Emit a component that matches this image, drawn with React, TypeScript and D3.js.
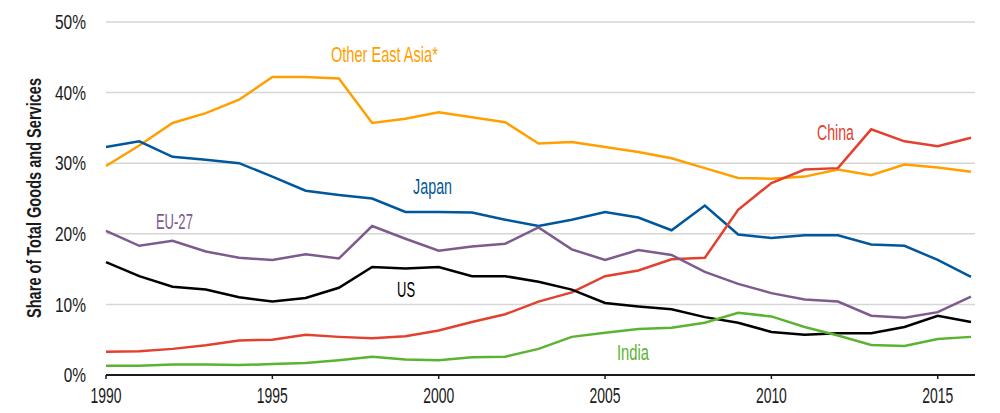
import React from "react";
import * as d3 from "d3";

const years = d3.range(1990, 2017);

const otherEastAsia = [29.6, 32.5, 35.7, 37.1, 39.0, 42.2, 42.2, 42.0, 35.7, 36.3, 37.2, 36.5, 35.8, 32.8, 33.0, 32.3, 31.6, 30.7, 29.3, 27.9, 27.8, 28.1, 29.1, 28.3, 29.8, 29.4, 28.8];
const japan = [32.3, 33.1, 30.9, 30.5, 30.0, 28.1, 26.1, 25.5, 25.0, 23.1, 23.1, 23.0, 22.0, 21.1, 22.0, 23.1, 22.3, 20.5, 24.0, 19.9, 19.4, 19.8, 19.8, 18.5, 18.3, 16.3, 13.9];
const china = [3.3, 3.35, 3.7, 4.2, 4.9, 5.0, 5.7, 5.4, 5.2, 5.5, 6.3, 7.5, 8.6, 10.4, 11.7, 14.0, 14.8, 16.4, 16.6, 23.4, 27.2, 29.1, 29.3, 34.8, 33.1, 32.4, 33.6];
const eu27 = [20.4, 18.3, 19.0, 17.5, 16.6, 16.3, 17.1, 16.5, 21.1, 19.3, 17.6, 18.2, 18.6, 20.9, 17.8, 16.3, 17.7, 17.0, 14.6, 12.9, 11.6, 10.7, 10.4, 8.4, 8.1, 8.9, 11.1];
const us = [16.0, 14.0, 12.5, 12.1, 11.0, 10.4, 10.9, 12.35, 15.3, 15.1, 15.3, 14.0, 14.0, 13.2, 12.1, 10.2, 9.7, 9.3, 8.2, 7.4, 6.1, 5.7, 5.9, 5.9, 6.8, 8.4, 7.5];
const india = [1.3, 1.3, 1.5, 1.5, 1.4, 1.55, 1.7, 2.1, 2.6, 2.2, 2.1, 2.5, 2.6, 3.7, 5.4, 6.0, 6.5, 6.7, 7.4, 8.8, 8.3, 6.8, 5.6, 4.25, 4.1, 5.1, 5.4];

const yTicks = [0, 10, 20, 30, 40, 50];
const xTicks = [1990, 1995, 2000, 2005, 2010, 2015];

const seriesNames = ["Other East Asia*", "Japan", "China", "EU-27", "US", "India"];
const seriesValues = [otherEastAsia, japan, china, eu27, us, india];
const seriesColors = ["#FFA000", "#00579C", "#E2412F", "#7D5B8D", "#000000", "#5CB332"];

// label anchor in data space (year, value) and rendered width
const labelYears = [1996.76, 1999.23, 2011.37, 1991.5, 1998.75, 2005.36];
const labelValues = [44.3, 25.6, 33.3, 20.7, 11.1, 2.1];
const labelWidths = [107, 39, 37, 37, 18, 32];

const FONT = "'Liberation Sans Narrow', 'Liberation Sans', Arial, sans-serif";

export default function App() {
  const width = 1000;
  const height = 413;
  const x = d3.scaleLinear().domain([1990, 2016]).range([106, 971]);
  const y = d3.scaleLinear().domain([0, 50]).range([375, 22]);
  const line = d3
    .line<[number, number]>()
    .x((d) => x(d[0]))
    .y((d) => y(d[1]));

  return (
    <svg
      width={width}
      height={height}
      style={{ position: "absolute", left: 0, top: 0, background: "#fff" }}
      fontFamily={FONT}
    >
      {yTicks
        .filter((t) => t > 0)
        .map((t) => (
          <line key={t} x1={106} x2={975} y1={y(t)} y2={y(t)} stroke="#D6D6D6" strokeWidth={1.5} />
        ))}
      {yTicks.map((t) => {
        const s = `${t}%`;
        return (
          <text
            key={t}
            x={86}
            y={y(t)}
            dy="0.36em"
            textAnchor="end"
            fontSize={20}
            fill="#1a1a1a"
            textLength={(s.length - 1) * 8.7 + 13.6}
            lengthAdjust="spacingAndGlyphs"
          >
            {s}
          </text>
        );
      })}
      <text
        transform={`translate(41, 198) rotate(-90)`}
        textAnchor="middle"
        fontSize={19.5}
        fontWeight={600}
        fill="#1a1a1a"
        textLength={240}
        lengthAdjust="spacingAndGlyphs"
      >
        Share of Total Goods and Services
      </text>
      {seriesValues.map((vals, i) => (
        <path
          key={seriesNames[i]}
          d={line(vals.map((v, j) => [years[j], v]) as [number, number][]) || ""}
          fill="none"
          stroke={seriesColors[i]}
          strokeWidth={2.5}
          strokeLinejoin="miter"
        />
      ))}
      <line x1={106} x2={975} y1={375} y2={375} stroke="#1a1a1a" strokeWidth={1.8} />
      {xTicks.map((t) => (
        <g key={t}>
          <line x1={x(t)} x2={x(t)} y1={375} y2={379} stroke="#1a1a1a" strokeWidth={1.5} />
          <text
            x={x(t)}
            y={403}
            textAnchor="middle"
            fontSize={22.5}
            fill="#1a1a1a"
            textLength={31}
            lengthAdjust="spacingAndGlyphs"
          >
            {t}
          </text>
        </g>
      ))}
      {seriesNames.map((name, i) => (
        <text
          key={name}
          x={x(labelYears[i])}
          y={y(labelValues[i])}
          fontSize={22.5}
          fill={seriesColors[i]}
          textLength={labelWidths[i]}
          lengthAdjust="spacingAndGlyphs"
        >
          {name}
        </text>
      ))}
    </svg>
  );
}
